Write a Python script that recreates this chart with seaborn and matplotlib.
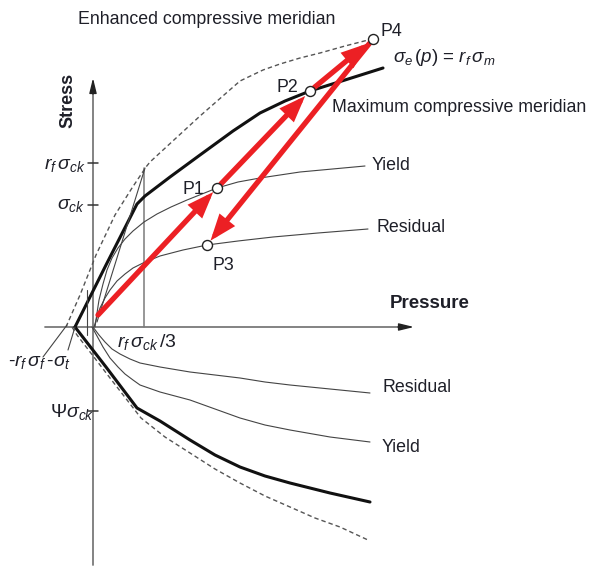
import matplotlib
matplotlib.use("Agg")
import matplotlib.pyplot as plt
import seaborn as sns

# Meridian curves in the (pressure p, stress q) plane; q > 0 compression side
enh_up_p = [-27, -13, 3, 22, 39, 53, 57, 107, 147, 170, 187, 207, 227, 252, 279]
enh_up_q = [0, 32, 72, 112, 139, 160, 165, 211, 246, 257, 263, 269, 274, 281, 288]
enh_lo_p = [-21, -16, 17, 48, 72, 97, 122, 147, 172, 197, 222, 247, 275]
enh_lo_q = [0, -8, -51, -91, -110, -126, -142, -156, -169, -180, -191, -200, -213]

max_up_p = [-18, 13, 44, 52, 77, 107, 140, 167, 192, 217, 252, 290]
max_up_q = [0, 62, 123, 131, 150, 172, 196, 214, 226, 236, 247, 259]
max_lo_p = [-18, 13, 44, 67, 97, 122, 147, 172, 197, 237, 277]
max_lo_q = [0, -40, -81, -94, -113, -128, -140, -149, -156, -166, -175]

yield_up_p = [2, 4, 6, 10, 14, 19, 25, 32, 40, 51, 64, 78, 94, 109, 124, 145, 167, 207, 272]
yield_up_q = [0, 14, 27, 43, 57, 69, 79, 88, 96, 105, 113, 120, 127, 133, 139, 145, 149, 155, 161]
resid_up_p = [1, 4, 7, 12, 17, 24, 32, 40, 50, 67, 90, 114, 145, 180, 225, 275]
resid_up_q = [0, 10, 19, 29, 37, 46, 53, 59, 64, 71, 77, 82, 86, 90, 94, 98]

yield_lo_p = [-1, 4, 10, 17, 25, 32, 40, 47, 67, 97, 122, 147, 172, 197, 237, 277]
yield_lo_q = [0, -9, -20, -31, -40, -47, -53, -58, -65, -73, -82, -91, -98, -103, -110, -115]
resid_lo_p = [0, 6, 12, 19, 27, 37, 47, 67, 97, 122, 147, 172, 197, 237, 277]
resid_lo_q = [0, -8, -15, -22, -27, -32, -36, -40, -45, -48, -51, -55, -58, -62, -66]

elastic_p = [52, 4]
elastic_q = [159, 5]
cutoff_p = [-6, -6]
cutoff_q = [37, -8]

# Reference levels on the axes
p_third = 51          # r_f sigma_ck / 3
q_rf_ck = 164         # r_f sigma_ck
q_ck = 122            # sigma_ck
q_psi = -84           # Psi sigma_ck

# Load path: start, P1, P2, P4, P3
path_names = ["S", "P1", "P2", "P4", "P3"]
path_p = [5, 124, 217, 280, 114]
path_q = [12, 139, 236, 288, 82]

sns.set_theme(style="white")
plt.rcParams["font.family"] = ["Liberation Sans", "DejaVu Sans"]
plt.rcParams["mathtext.fontset"] = "custom"
plt.rcParams["mathtext.rm"] = "Liberation Sans"
plt.rcParams["mathtext.it"] = "Liberation Sans:italic"
plt.rcParams["mathtext.bf"] = "Liberation Sans:bold"

TXT = "#1e1f28"
AXC = "#7a7a7a"
RED = "#ec2024"

fig = plt.figure(figsize=(6.14, 5.71), dpi=100)
ax = fig.add_axes([0, 0, 1, 1])
ax.set_xlim(-93, 521)
ax.set_ylim(-244, 327)
ax.axis("off")


def curve(px, qy, **kw):
    sns.lineplot(x=px, y=qy, sort=False, estimator=None, ax=ax, **kw)


# axes with arrow heads
curve([-48, 310], [0, 0], color=AXC, lw=1.3)
curve([0, 0], [-238, 240], color=AXC, lw=1.3)
head = dict(arrowstyle="-|>,head_length=0.9,head_width=0.22", color="#222222",
            lw=1.0, shrinkA=0, shrinkB=0, mutation_scale=10)
ax.annotate("", xy=(321, 0), xytext=(305, 0), arrowprops=head)
ax.annotate("", xy=(0, 249), xytext=(0, 233), arrowprops=head)

# guide line at r_f sigma_ck / 3 and axis ticks
curve([p_third, p_third], [0, 159], color=AXC, lw=1.1)
for qv in (q_rf_ck, q_ck, q_psi):
    curve([-5, 5], [qv, qv], color="#333333", lw=1.1)

# meridians
dash = (0, (3.2, 2.2))
curve(enh_up_p, enh_up_q, color="#555555", lw=1.0, linestyle=dash)
curve(enh_lo_p, enh_lo_q, color="#555555", lw=1.0, linestyle=dash)
curve(max_up_p, max_up_q, color="#111111", lw=2.2)
curve(max_lo_p, max_lo_q, color="#111111", lw=2.2)
for px, qy in ((yield_up_p, yield_up_q), (resid_up_p, resid_up_q),
               (yield_lo_p, yield_lo_q), (resid_lo_p, resid_lo_q),
               (elastic_p, elastic_q), (cutoff_p, cutoff_q)):
    curve(px, qy, color="#444444", lw=0.8)

# leader lines for the tension intercepts
curve([-50, -26], [-30, 2], color="#444444", lw=0.8)
curve([-25, -18], [-23, 0], color="#444444", lw=0.8)

# loading / unloading path
shrink = [(0, 4), (4, 5), (4, 5), (4, 4)]
for i in range(4):
    ax.annotate("", xy=(path_p[i + 1], path_q[i + 1]), xytext=(path_p[i], path_q[i]),
                arrowprops=dict(arrowstyle="-|>,head_length=0.8,head_width=0.3",
                                color=RED, lw=3.8, shrinkA=shrink[i][0],
                                shrinkB=shrink[i][1], mutation_scale=15,
                                joinstyle="miter"), zorder=4)

sns.scatterplot(x=path_p[1:], y=path_q[1:], s=52, color="white",
                edgecolor="#222222", linewidth=1.0, ax=ax, zorder=5)

fs = 12.8


def label(p, q, s, ha="left", **kw):
    kw.setdefault("fontsize", fs)
    ax.text(p, q, s, ha=ha, va="center", color=TXT, **kw)


label(-15, 307, "Enhanced compressive meridian")
label(239, 219, "Maximum compressive meridian")
label(300, 270, r"$\sigma_e\,(p)$ = $r_f\,\sigma_m$", fontsize=13.5)
label(-25, 227, "Stress", ha="center", rotation=90, fontweight="bold", fontsize=13)
label(337, 24, "Pressure", ha="center", fontweight="bold", fontsize=13.5)

label(287, 296, "P4")
label(184, 240, "P2")
label(90, 138, "P1")
label(119, 61, "P3")

label(279, 162, "Yield")
label(284, 100, "Residual")
label(289, -61, "Residual")
label(289, -121, "Yield")

label(-8, 162, r"$r_f\,\sigma_{ck}$", ha="right", fontsize=14)
label(-8, 122, r"$\sigma_{ck}$", ha="right", fontsize=14)
label(24, -15, r"$r_f\,\sigma_{ck}\,/3$", fontsize=14)
label(-85, -35, r"$\text{-}r_f\,\sigma_f\,\text{-}\sigma_t$", fontsize=14)
label(-43, -85, r"$\Psi\sigma_{ck}$", fontsize=14)

fig.savefig("out.png", dpi=100, facecolor="white")
